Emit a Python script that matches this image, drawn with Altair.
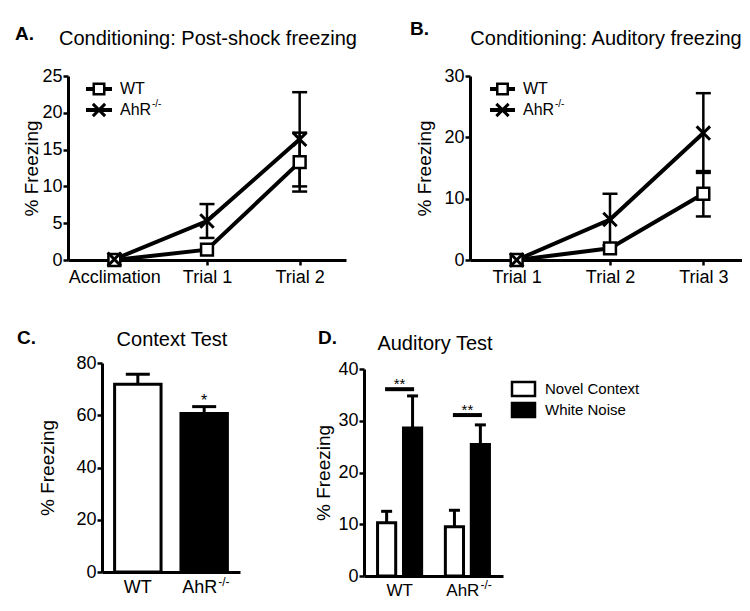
import altair as alt
import pandas as pd

FONT = "Liberation Sans"
W, H = 734, 595

# ---------------- data ----------------
a_cats = ["Acclimation", "Trial 1", "Trial 2"]
a_wt_mean = [0.0, 1.4, 13.3]
a_wt_sem = [0.0, 0.0, 4.0]
a_ahr_mean = [0.1, 5.3, 16.4]
a_ahr_sem = [0.0, 2.3, 6.4]

b_cats = ["Trial 1", "Trial 2", "Trial 3"]
b_wt_mean = [0.0, 1.9, 10.8]
b_wt_sem = [0.0, 0.0, 3.7]
b_ahr_mean = [0.0, 6.6, 20.7]
b_ahr_sem = [0.0, 4.2, 6.5]

c_cats = ["WT", "AhR"]
c_mean = [71.9, 60.7]
c_sem = [3.8, 2.6]
c_sig = ["", "*"]

d_groups = ["WT", "AhR"]
d_conds = ["Novel Context", "White Noise"]
d_novel_mean = [10.3, 9.5]
d_novel_sem = [2.2, 3.2]
d_white_mean = [28.6, 25.4]
d_white_sem = [6.2, 3.8]
d_sig = [36.1, 31.1]

XSHAPE = "M-1,-1L1,1M-1,1L1,-1"


def dummy():
    return alt.Chart(alt.Data(values=[{"a": 0}]))


def label(txt, x, y, size, weight="normal", align="left", baseline="alphabetic"):
    return dummy().mark_text(text=txt, font=FONT, fontSize=size, fontWeight=weight,
                             align=align, baseline=baseline, color="black").encode(
        x=alt.value(x), y=alt.value(y))


def line_panel(cats, wt_m, wt_s, ahr_m, ahr_s, xr, yr, ydom, yticks, tpad):
    n = len(cats)
    df = pd.DataFrame({
        "cat": cats * 2,
        "geno": ["WT"] * n + ["AhR"] * n,
        "mean": wt_m + ahr_m,
        "sem": wt_s + ahr_s,
    })
    base = alt.Chart(df).transform_calculate(
        lo="datum.mean - datum.sem", hi="datum.mean + datum.sem")
    xenc = alt.X("cat:N", sort=cats,
                 scale=alt.Scale(type="point", domain=cats, range=xr, padding=0.5),
                 axis=alt.Axis(orient="bottom", offset=yr[0] - H, title=None, labelAngle=0,
                               labelFontSize=18, labelPadding=3))
    yaxis = alt.Axis(orient="left", offset=-xr[0], values=yticks, title="% Freezing",
                     titleFontSize=19, titlePadding=tpad, labelFontSize=18, labelPadding=1)
    ysc = alt.Scale(domain=ydom, range=yr, nice=False)

    def Y(f):
        return alt.Y(f + ":Q", scale=ysc, axis=yaxis)

    lines = base.mark_line(color="black", strokeWidth=4).encode(
        x=xenc, y=Y("mean"), detail="geno:N")
    err = base.transform_filter("datum.sem > 0").mark_rule(color="black", strokeWidth=2.5).encode(
        x=xenc, y=Y("lo"), y2="hi:Q")
    cap_hi = base.transform_filter("datum.sem > 0").mark_tick(
        color="black", thickness=2.5, size=15, opacity=1).encode(x=xenc, y=Y("hi"))
    cap_lo = base.transform_filter("datum.sem > 0").mark_tick(
        color="black", thickness=2.5, size=15, opacity=1).encode(x=xenc, y=Y("lo"))
    wt_pts = base.transform_filter("datum.geno == 'WT'").mark_point(
        shape="square", size=140, filled=True, fill="white", stroke="black",
        strokeWidth=2.5, opacity=1).encode(x=xenc, y=Y("mean"))
    ahr_pts = base.transform_filter("datum.geno == 'AhR'").mark_point(
        shape=XSHAPE, size=180, filled=False, stroke="black", strokeWidth=3,
        opacity=1).encode(x=xenc, y=Y("mean"))
    return alt.layer(lines, err, cap_hi, cap_lo, wt_pts, ahr_pts)


def line_legend(x0, x1, xt, y1, y2):
    xm = (x0 + x1) / 2
    parts = []
    for y in (y1, y2):
        parts.append(dummy().mark_rule(color="black", strokeWidth=4).encode(
            x=alt.value(x0), x2=alt.value(x1), y=alt.value(y)))
    parts.append(dummy().mark_point(shape="square", size=110, filled=True, fill="white",
                                    stroke="black", strokeWidth=2.5, opacity=1).encode(
        x=alt.value(xm), y=alt.value(y1)))
    parts.append(dummy().mark_point(shape=XSHAPE, size=150, filled=False, stroke="black",
                                    strokeWidth=3, opacity=1).encode(
        x=alt.value(xm), y=alt.value(y2)))
    parts.append(label("WT", xt, y1, 16, baseline="middle"))
    parts.append(label("AhR", xt, y2, 16, baseline="middle"))
    parts.append(label("-/-", xt + 32, y2 - 3, 10, baseline="alphabetic"))
    return parts


def cat_labels(base, field, x, y_base, size, ahr_dx):
    """Category labels drawn as text, with the AhR superscript after it."""
    wt = base.transform_filter(f"datum.{field} == 'WT'").mark_text(
        text="WT", font=FONT, fontSize=size, color="black", align="center",
        baseline="alphabetic").encode(x=x, y=alt.value(y_base))
    ahr = base.transform_filter(f"datum.{field} == 'AhR'").mark_text(
        text="AhR", font=FONT, fontSize=size, color="black", align="right",
        baseline="alphabetic", dx=ahr_dx).encode(x=x, y=alt.value(y_base))
    sup = base.transform_filter(f"datum.{field} == 'AhR'").mark_text(
        text="-/-", font=FONT, fontSize=12, color="black", align="left",
        baseline="alphabetic", dx=ahr_dx + 1).encode(x=x, y=alt.value(y_base - 7))
    return [wt, ahr, sup]


panel_a = line_panel(a_cats, a_wt_mean, a_wt_sem, a_ahr_mean, a_ahr_sem,
                     [60, 338], [252, 68], [0, 25], [0, 5, 10, 15, 20, 25], 0)
panel_b = line_panel(b_cats, b_wt_mean, b_wt_sem, b_ahr_mean, b_ahr_sem,
                     [462, 742], [252, 68], [0, 30], [0, 10, 20, 30], 9)

# ---------------- panel C ----------------
df_c = pd.DataFrame({"cat": c_cats, "mean": c_mean, "sem": c_sem, "sig": c_sig})
base_c = alt.Chart(df_c).transform_calculate(hi="datum.mean + datum.sem")
xc = alt.X("cat:N", sort=c_cats,
           scale=alt.Scale(domain=c_cats, range=[94, 232], paddingInner=0.3, paddingOuter=0.19),
           axis=alt.Axis(orient="bottom", offset=564 - H, title=None, ticks=False, labels=False))
yc_sc = alt.Scale(domain=[0, 80], range=[564, 355], nice=False)
yc_ax = alt.Axis(orient="left", offset=-94, values=[0, 20, 40, 60, 80], title="% Freezing",
                 titleFontSize=19, titlePadding=18, labelFontSize=18, labelPadding=1)


def YC(f):
    return alt.Y(f + ":Q", scale=yc_sc, axis=yc_ax)


c_err = base_c.mark_rule(color="black", strokeWidth=3).encode(x=xc, y=YC("mean"), y2="hi:Q")
c_cap = base_c.mark_tick(color="black", thickness=3, size=24, opacity=1).encode(x=xc, y=YC("hi"))
c_bar = base_c.mark_bar(stroke="black", strokeWidth=3).encode(
    x=xc, y=YC("mean"),
    fill=alt.Fill("cat:N", scale=alt.Scale(domain=c_cats, range=["white", "black"]), legend=None))
c_star = base_c.mark_text(font=FONT, fontSize=16, color="black", baseline="alphabetic", dy=-1).encode(
    x=xc, y=YC("hi"), text="sig:N")
panel_c = alt.layer(c_err, c_cap, c_bar, c_star, *cat_labels(base_c, "cat", xc, 585, 18, 13))

# ---------------- panel D ----------------
df_d = pd.DataFrame({
    "group": d_groups * 2,
    "cond": [d_conds[0]] * 2 + [d_conds[1]] * 2,
    "mean": d_novel_mean + d_white_mean,
    "sem": d_novel_sem + d_white_sem,
})
df_dsig = pd.DataFrame({"group": d_groups, "sig": d_sig, "txt": ["**", "**"]})
base_d = alt.Chart(df_d).transform_calculate(hi="datum.mean + datum.sem")
base_dsig = alt.Chart(df_dsig)
xd = alt.X("group:N", sort=d_groups,
           scale=alt.Scale(domain=d_groups, range=[356, 495], paddingInner=0.35, paddingOuter=0.2),
           axis=alt.Axis(orient="bottom", offset=568 - H, title=None, ticks=False, labels=False))
xo = alt.XOffset("cond:N", sort=d_conds,
                 scale=alt.Scale(domain=d_conds, paddingInner=0.3, paddingOuter=0))
yd_sc = alt.Scale(domain=[0, 40], range=[568, 361], nice=False)
yd_ax = alt.Axis(orient="left", offset=-356, values=[0, 10, 20, 30, 40], title="% Freezing",
                 titleFontSize=19, titlePadding=4, labelFontSize=18, labelPadding=1)


def YD(f):
    return alt.Y(f + ":Q", scale=yd_sc, axis=yd_ax)


d_err = base_d.mark_rule(color="black", strokeWidth=3).encode(x=xd, xOffset=xo, y=YD("mean"), y2="hi:Q")
d_cap = base_d.mark_tick(color="black", thickness=3, size=11, opacity=1).encode(
    x=xd, xOffset=xo, y=YD("hi"))
d_bar = base_d.mark_bar(stroke="black", strokeWidth=3).encode(
    x=xd, xOffset=xo, y=YD("mean"),
    fill=alt.Fill("cond:N", scale=alt.Scale(domain=d_conds, range=["white", "black"]), legend=None))
d_sigline = base_dsig.mark_tick(color="black", thickness=4, size=29, opacity=1).encode(
    x=xd, y=YD("sig"))
d_sigtxt = base_dsig.mark_text(font=FONT, fontSize=15, color="black",
                               baseline="alphabetic", dy=0).encode(
    x=xd, y=YD("sig"), text="txt:N")
panel_d = alt.layer(d_err, d_cap, d_bar, d_sigline, d_sigtxt,
                    *cat_labels(base_dsig, "group", xd, 588, 17, 12))

# ---------------- annotations ----------------
texts = [
    label("A.", 7, 32, 19, weight="bold"),
    label("Conditioning: Post-shock freezing", 200, 37, 20, align="center"),
    label("B.", 402, 27, 19, weight="bold"),
    label("Conditioning: Auditory freezing", 598, 37, 20, align="center"),
    label("C.", 9, 336, 19, weight="bold"),
    label("Context Test", 164, 338, 20, align="center"),
    label("D.", 310, 336, 19, weight="bold"),
    label("Auditory Test", 427, 342, 20, align="center"),
]
texts += line_legend(78, 104, 112, 81, 102)
texts += line_legend(482, 507, 515, 81, 102)
texts += [
    dummy().mark_rect(fill="white", stroke="black", strokeWidth=2.5).encode(
        x=alt.value(504), x2=alt.value(527), y=alt.value(374), y2=alt.value(388)),
    dummy().mark_rect(fill="black", stroke="black", strokeWidth=2.5).encode(
        x=alt.value(504), x2=alt.value(527), y=alt.value(395), y2=alt.value(409)),
    label("Novel Context", 537, 381, 15, baseline="middle"),
    label("White Noise", 537, 402, 15, baseline="middle"),
]

chart = alt.layer(panel_a, panel_b, panel_c, panel_d, *texts).resolve_scale(
    x="independent", y="independent", fill="independent"
).properties(
    width=W, height=H, autosize=alt.AutoSizeParams(type="none"), padding=0
).configure_view(stroke=None).configure_axis(
    labelFont=FONT, titleFont=FONT, labelColor="black", titleColor="black",
    domainColor="black", tickColor="black", grid=False, domainWidth=3,
    tickWidth=2.5, tickSize=5, titleFontWeight="normal", labelOverlap=False
)

chart.save("out.html", embed_options={"renderer": "svg", "actions": False})
